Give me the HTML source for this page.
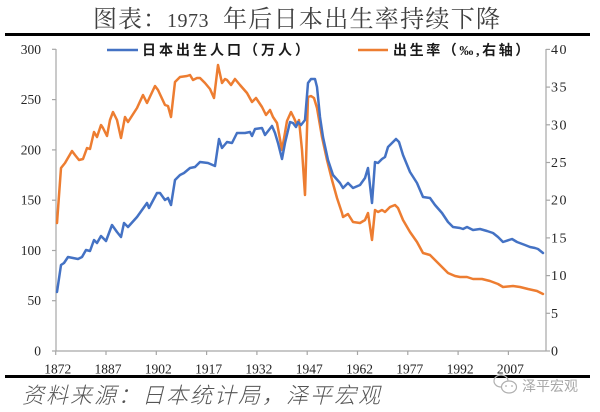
<!DOCTYPE html>
<html>
<head>
<meta charset="utf-8">
<style>
  html,body{margin:0;padding:0;background:#fff;}
  body{width:600px;height:412px;overflow:hidden;}
  svg{display:block;}
</style>
</head>
<body>
<svg width="600" height="412" viewBox="0 0 600 412" xmlns="http://www.w3.org/2000/svg">
  <rect x="0" y="0" width="600" height="412" fill="#fff"/>

  <!-- Title -->
  <g font-family="'Liberation Serif','Noto Serif CJK SC',serif" fill="#404040">
    <text x="93" y="27" font-size="24" letter-spacing="1">图表：</text>
    <text x="167" y="27" font-size="20" letter-spacing="0.5">1973</text>
    <text x="223" y="27" font-size="24" letter-spacing="1.3">年后日本出生率持续下降</text>
  </g>

  <!-- Black separator lines -->
  <rect x="5" y="33" width="585" height="3" fill="#000"/>
  <rect x="5" y="375" width="585" height="3" fill="#000"/>

  <!-- Legend -->
  <line x1="107" y1="50" x2="138" y2="50" stroke="#4472C4" stroke-width="2.5"/>
  <text x="142" y="55" font-family="'Liberation Serif','Noto Sans CJK SC',sans-serif" font-size="14" font-weight="bold" letter-spacing="3" fill="#1a1a1a">日本出生人口（万人）</text>
  <line x1="358" y1="50" x2="388" y2="50" stroke="#ED7D31" stroke-width="2.5"/>
  <text x="393" y="55" font-family="'Liberation Serif','Noto Sans CJK SC',sans-serif" font-size="14" font-weight="bold" letter-spacing="2.6" fill="#1a1a1a">出生率（‰,右轴）</text>

  <!-- Axes -->
  <g stroke="#a6a6a6" stroke-width="1.2" fill="none">
    <line x1="56" y1="49" x2="56" y2="351"/>
    <line x1="546" y1="49" x2="546" y2="351"/>
    <line x1="56" y1="351" x2="546" y2="351"/>
    <line x1="52" y1="351" x2="56" y2="351"/>
    <line x1="52" y1="300.7" x2="56" y2="300.7"/>
    <line x1="52" y1="250.5" x2="56" y2="250.5"/>
    <line x1="52" y1="200.2" x2="56" y2="200.2"/>
    <line x1="52" y1="149.9" x2="56" y2="149.9"/>
    <line x1="52" y1="99.6" x2="56" y2="99.6"/>
    <line x1="52" y1="49.3" x2="56" y2="49.3"/>
    <line x1="546" y1="351" x2="550" y2="351"/>
    <line x1="546" y1="313.3" x2="550" y2="313.3"/>
    <line x1="546" y1="275.6" x2="550" y2="275.6"/>
    <line x1="546" y1="237.9" x2="550" y2="237.9"/>
    <line x1="546" y1="200.2" x2="550" y2="200.2"/>
    <line x1="546" y1="162.5" x2="550" y2="162.5"/>
    <line x1="546" y1="124.8" x2="550" y2="124.8"/>
    <line x1="546" y1="87.1" x2="550" y2="87.1"/>
    <line x1="546" y1="49.4" x2="550" y2="49.4"/>
    <line x1="55.7" y1="351" x2="55.7" y2="355"/>
    <line x1="106" y1="351" x2="106" y2="355"/>
    <line x1="156.3" y1="351" x2="156.3" y2="355"/>
    <line x1="206.6" y1="351" x2="206.6" y2="355"/>
    <line x1="256.9" y1="351" x2="256.9" y2="355"/>
    <line x1="307.2" y1="351" x2="307.2" y2="355"/>
    <line x1="357.5" y1="351" x2="357.5" y2="355"/>
    <line x1="407.8" y1="351" x2="407.8" y2="355"/>
    <line x1="458.1" y1="351" x2="458.1" y2="355"/>
    <line x1="508.4" y1="351" x2="508.4" y2="355"/>
  </g>

  <!-- Left labels -->
  <g font-family="'Liberation Serif',serif" font-size="13.5" fill="#262626" text-anchor="end">
    <text x="41" y="355.5">0</text>
    <text x="41" y="305.2">50</text>
    <text x="41" y="255">100</text>
    <text x="41" y="204.7">150</text>
    <text x="41" y="154.4">200</text>
    <text x="41" y="104.1">250</text>
    <text x="41" y="53.8">300</text>
  </g>
  <!-- Right labels -->
  <g font-family="'Liberation Serif',serif" font-size="14" fill="#262626" letter-spacing="1.5">
    <text x="551" y="355.5">0</text>
    <text x="551" y="317.8">5</text>
    <text x="551" y="280.1">10</text>
    <text x="551" y="242.4">15</text>
    <text x="551" y="204.7">20</text>
    <text x="551" y="167">25</text>
    <text x="551" y="129.3">30</text>
    <text x="551" y="91.6">35</text>
    <text x="551" y="53.9">40</text>
  </g>
  <!-- X labels -->
  <g font-family="'Liberation Serif',serif" font-size="13.5" fill="#262626" text-anchor="middle">
    <text x="57.7" y="373.3">1872</text>
    <text x="108" y="373.3">1887</text>
    <text x="158.3" y="373.3">1902</text>
    <text x="208.6" y="373.3">1917</text>
    <text x="258.9" y="373.3">1932</text>
    <text x="309.2" y="373.3">1947</text>
    <text x="359.5" y="373.3">1962</text>
    <text x="409.8" y="373.3">1977</text>
    <text x="460.1" y="373.3">1992</text>
    <text x="510.4" y="373.3">2007</text>
  </g>

  <!-- Orange series: birth rate -->
  <polyline fill="none" stroke="#ED7D31" stroke-width="2.5" stroke-linejoin="round" stroke-linecap="round"
    points="57,223 61,168 65,163 72,151 75,155 79,160 83,159 87,148 90,149 94,132 97,137 101,125 103,128 107,136 110,120 113,112 117,120 121,138 125,117 128,122 137,108 143,95 147,103 155,86 158,90 165,105 168,106 171,117 175,82 180,77 187,76 190,75 193,80 197,78 200,78 205,83 210,89 214,98 218,65 222,83 225,79 227,80 231,85 235,79 240,85 247,93 252,102 256,98 262,107 266,115 270,110 273,117 277,123 282,150 287,121 291,112 294,118 297,125 299,120 302,150 305,195 308,97 311,96 314,98 317,108 322,137 327,160 332,180 337,198 342,213 343,217 348,214 353,222 360,223 365,220 368,213 372,240 375,210 378,212 382,210 385,212 390,207 395,205 398,208 403,220 410,232 417,242 423,253 430,255 435,260 442,267 448,273 455,276 460,277 467,277 473,279 482,279 490,281 498,284 503,287 513,286 520,287 528,289 537,291 543,294"/>

  <!-- Blue series: births -->
  <polyline fill="none" stroke="#4472C4" stroke-width="2.5" stroke-linejoin="round" stroke-linecap="round"
    points="57,292 61,265 64,263 68,257 73,258 78,259 82,257 86,250 90,251 94,240 97,243 101,236 106,241 112,225 117,232 121,237 124,223 128,227 137,217 147,203 149,208 157,193 160,193 165,200 168,198 171,205 175,180 180,175 184,173 190,168 195,167 200,162 208,163 215,166 219,139 222,148 227,142 232,143 237,133 245,133 250,132 252,136 255,129 262,128 265,135 272,126 275,133 278,143 282,159 285,143 290,122 293,123 296,127 298,122 301,125 305,120 308,83 311,79 315,79 317,87 320,117 323,137 328,160 333,175 340,183 343,188 348,183 353,188 360,185 365,178 368,168 372,203 375,162 378,163 382,159 385,157 388,147 392,143 396,139 399,142 403,155 410,172 417,183 423,197 430,198 435,205 442,213 448,222 453,227 460,228 463,229 467,227 473,230 480,229 487,231 493,233 498,237 503,242 512,239 517,242 525,245 530,247 535,248 538,249 543,253"/>

  <!-- Footer -->
  <text x="22" y="403" font-family="'Liberation Sans','Noto Sans CJK SC',sans-serif" font-size="22" font-style="italic" font-weight="300" letter-spacing="2" fill="#555">资料来源：日本统计局，泽平宏观</text>

  <!-- Watermark -->
  <g fill="none" stroke="#b0b0b0" stroke-width="1.2">
    <ellipse cx="501" cy="381" rx="7" ry="6"/>
    <ellipse cx="509" cy="387" rx="7.5" ry="6" fill="#fff"/>
  </g>
  <circle cx="506" cy="386" r="0.9" fill="#b0b0b0"/>
  <circle cx="512" cy="386" r="0.9" fill="#b0b0b0"/>
  <text x="522" y="391" font-family="'Liberation Sans','Noto Sans CJK SC',sans-serif" font-size="14" fill="#a8a8a8">泽平宏观</text>
</svg>
</body>
</html>
